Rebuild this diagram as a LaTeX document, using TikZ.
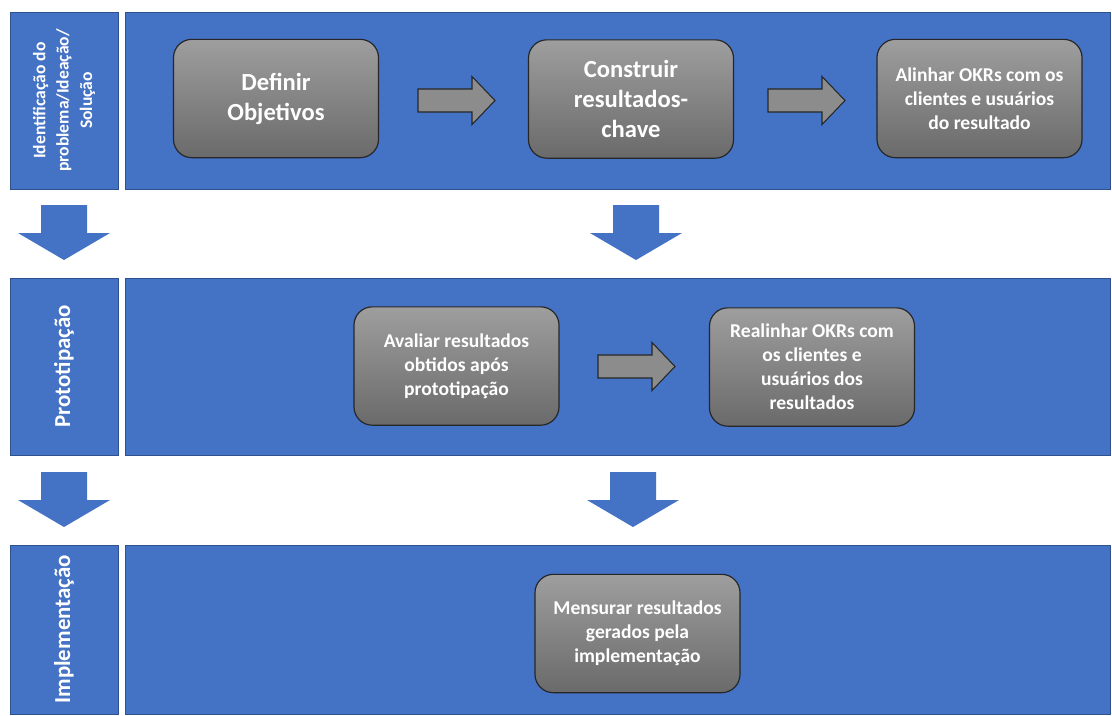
\documentclass[tikz,border=0pt]{standalone}
\usepackage{fontspec}
\setmainfont{Carlito}
\usetikzlibrary{shapes}
\definecolor{phaseblue}{RGB}{68,114,196}
\definecolor{phaseline}{RGB}{47,82,143}
\definecolor{taskgraytop}{RGB}{158,158,158}
\definecolor{taskgraybot}{RGB}{106,106,106}
\tikzstyle{band}=[rectangle,draw=phaseline,fill=phaseblue,line width=0.5pt,inner sep=0pt,minimum width=29.55cm]
\tikzstyle{phase}=[rectangle,draw=phaseline,fill=phaseblue,line width=0.5pt,inner sep=0pt,minimum width=3.24cm,text=white,font=\bfseries,align=center]
\tikzstyle{task}=[rectangle,rounded corners=0.55cm,draw=black!85,line width=1pt,top color=taskgraytop,bottom color=taskgraybot,text=white,font=\bfseries,align=center,minimum width=6.15cm,minimum height=3.55cm,inner sep=2pt]
\tikzstyle{flowarrow}=[draw=black!85,fill=black!45,line width=0.9pt]
\tikzstyle{downfill}=[fill=phaseblue]
\tikzset{
  rightblock/.pic={\path[flowarrow] (0,-11.5) -- (54,-11.5) -- (54,-24) -- (77,0) -- (54,24) -- (54,11.5) -- (0,11.5) -- cycle;},
  downblock/.pic={\path[downfill] (-23,0) -- (23,0) -- (23,28) -- (46,28) -- (0,55) -- (-46,28) -- (-23,28) -- cycle;}
}
\newcommand{\bigtxt}{\fontsize{21}{25.6}\selectfont}
\newcommand{\smalltxt}{\fontsize{16.7}{20.5}\selectfont}
\begin{document}
\begin{tikzpicture}[x=0.03cm,y=-0.03cm]
    \useasboundingbox[fill=white] (0,0) rectangle (1112,715);

    % faixas das fases
    \foreach \pos/\name/\h in {{(617.5,100.5)/bandA/5.31cm}, {(617.5,366.5)/bandB/5.31cm}, {(617.5,629.5)/bandC/5.07cm}}
        \node[band, minimum height=\h] (\name) at \pos {};

    \node[phase, minimum height=5.31cm] (idea) at (64,100.5)
        {\rotatebox{90}{\fontsize{15}{20}\selectfont\begin{tabular}{@{}c@{}}Identificação do\\problema/Ideação/\\Solução\end{tabular}}};
    \node[phase, minimum height=5.31cm] (proto) at (64,366.5)
        {\rotatebox{90}{\fontsize{19.5}{22}\selectfont Prototipação}};
    \node[phase, minimum height=5.07cm] (impl) at (64,629.5)
        {\rotatebox{90}{\fontsize{19.5}{22}\selectfont Implementação}};

    % tarefas
    \node[task, font=\bfseries\bigtxt] (definir) at (276,98.5) {Definir\\Objetivos};
    \node[task, font=\bfseries\bigtxt] (construir) at (631,99) {Construir\\resultados-\\chave};
    \node[task, font=\bfseries\smalltxt] (alinhar) at (979.5,98.5) {Alinhar OKRs com os\\clientes e usuários\\do resultado};
    \node[task, font=\bfseries\smalltxt] (avaliar) at (456.5,366) {Avaliar resultados\\obtidos após\\prototipação};
    \node[task, font=\bfseries\smalltxt] (realinhar) at (812,367) {Realinhar OKRs com\\os clientes e\\usuários dos\\resultados};
    \node[task, font=\bfseries\smalltxt] (mensurar) at (637.5,633.5) {Mensurar resultados\\gerados pela\\implementação};

    % setas
    \foreach \pos in {(418,100.5), (768,100.5), (598,366.5)}
        \pic at \pos {rightblock};
    \foreach \pos in {(64,205), (636,205), (64,472), (633,472)}
        \pic at \pos {downblock};

\end{tikzpicture}
\end{document}
